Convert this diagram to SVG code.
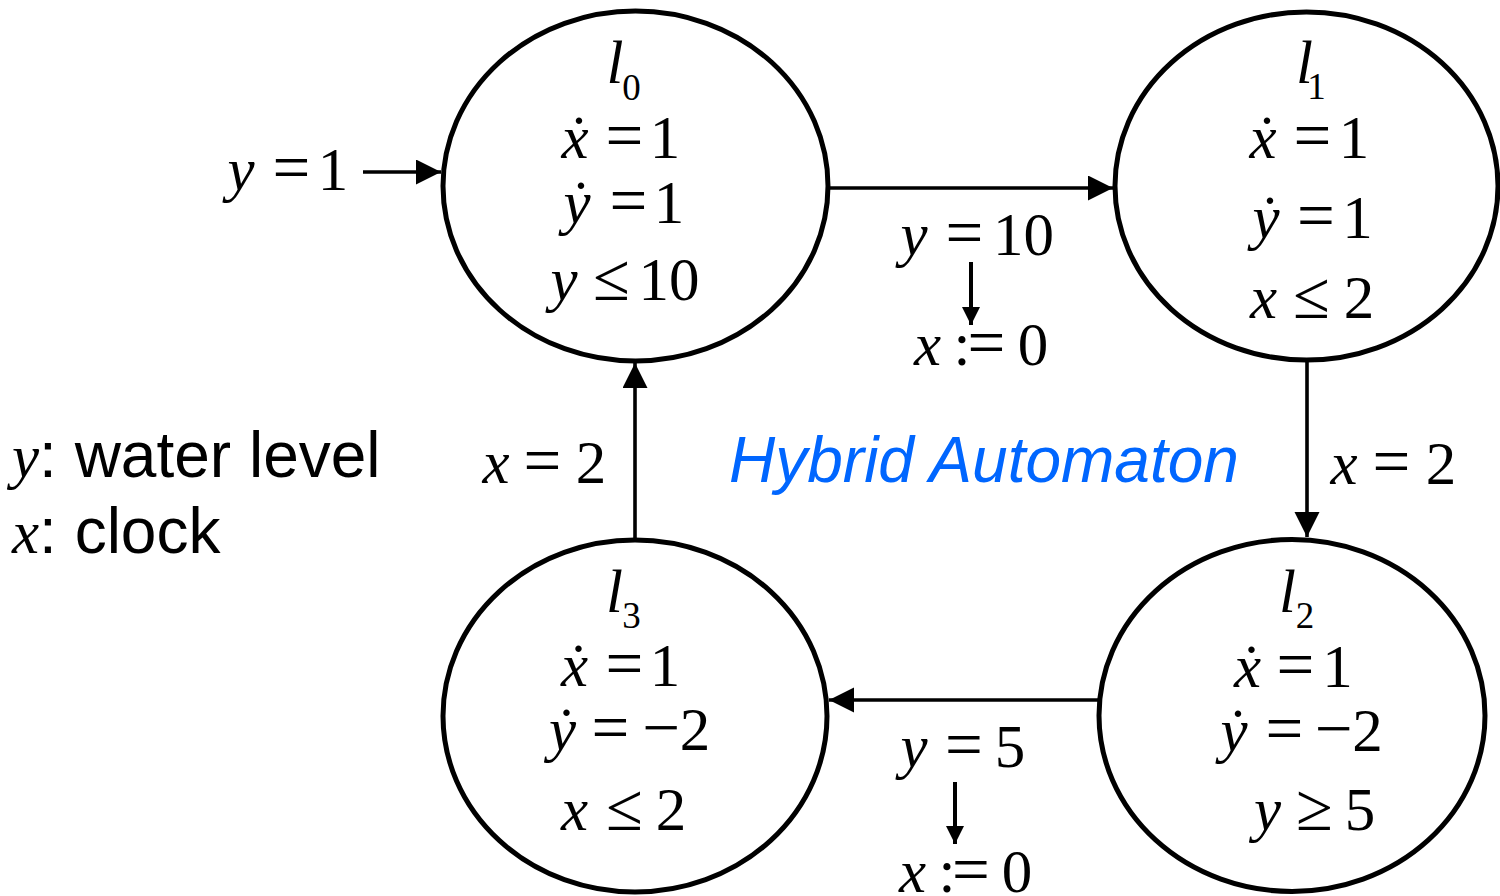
<svg xmlns="http://www.w3.org/2000/svg" width="1500" height="896" viewBox="0 0 1500 896">
<style>
.node{fill:none;stroke:#000;stroke-width:5}
.edge{fill:none;stroke:#000;stroke-width:3.6}
.sedge{fill:none;stroke:#000;stroke-width:4}
.m{font-family:"Liberation Serif","Times New Roman",serif;font-size:61px;fill:#000;text-anchor:middle}
.i{font-style:italic}
.o{font-size:67px}
.sub{font-size:37px}
.sans{font-family:"Liberation Sans",Arial,sans-serif;font-size:64px;fill:#000}
.title{font-family:"Liberation Sans",Arial,sans-serif;font-size:64px;font-style:italic;fill:#0066ff}
</style>
<defs>
<marker id="ah" markerUnits="userSpaceOnUse" markerWidth="26" markerHeight="26" refX="25" refY="12.5" orient="auto"><path d="M0,0 L25,12.5 L0,25 z" fill="#000"/></marker>
<marker id="ahs" markerUnits="userSpaceOnUse" markerWidth="20" markerHeight="20" refX="18" refY="9" orient="auto"><path d="M0,0 L18,9 L0,18 z" fill="#000"/></marker>
</defs>
<g id="connectors">
<line class="edge" x1="363" y1="172" x2="441" y2="172" marker-end="url(#ah)"/>
<line class="edge" x1="828" y1="188" x2="1113" y2="188" marker-end="url(#ah)"/>
<line class="edge" x1="1307" y1="360" x2="1307" y2="537" marker-end="url(#ah)"/>
<line class="edge" x1="1100" y1="700" x2="829" y2="700" marker-end="url(#ah)"/>
<line class="edge" x1="635" y1="540" x2="635" y2="363" marker-end="url(#ah)"/>
<line class="sedge" x1="971" y1="262" x2="971" y2="325" marker-end="url(#ahs)"/>
<line class="sedge" x1="955" y1="782" x2="955" y2="844" marker-end="url(#ahs)"/>
<text class="m" y="190"><tspan class="i" x="241">y</tspan><tspan class="o" x="291.5">=</tspan><tspan x="333">1</tspan></text>
<text class="m" y="255"><tspan class="i" x="914">y</tspan><tspan class="o" x="964.5">=</tspan><tspan x="1023.5">10</tspan></text>
<text class="m" y="365"><tspan class="i" x="927.5">x</tspan><tspan x="962">:</tspan><tspan class="o" x="986.5">=</tspan><tspan x="1033">0</tspan></text>
<text class="m" y="484"><tspan class="i" x="1344">x</tspan><tspan class="o" x="1391.5">=</tspan><tspan x="1441">2</tspan></text>
<text class="m" y="767"><tspan class="i" x="914">y</tspan><tspan class="o" x="964">=</tspan><tspan x="1010">5</tspan></text>
<text class="m" y="892"><tspan class="i" x="912.5">x</tspan><tspan x="947">:</tspan><tspan class="o" x="971">=</tspan><tspan x="1017">0</tspan></text>
<text class="m" y="483"><tspan class="i" x="496">x</tspan><tspan class="o" x="542.5">=</tspan><tspan x="591">2</tspan></text>
</g>
<g id="l0">
<ellipse class="node" cx="635.5" cy="186" rx="192.5" ry="175"/>
<text class="m i" x="615" y="83">l</text><text class="m sub" x="631.5" y="100">0</text>
<text class="m" y="158"><tspan class="i" x="575">x</tspan><tspan x="579">˙</tspan><tspan class="o" x="624.5">=</tspan><tspan x="665">1</tspan></text>
<text class="m" y="223"><tspan class="i" x="577">y</tspan><tspan x="581">˙</tspan><tspan class="o" x="628.5">=</tspan><tspan x="669">1</tspan></text>
<text class="m" y="300"><tspan class="i" x="564">y</tspan><tspan class="o" x="611.5">≤</tspan><tspan x="669">10</tspan></text>
</g>
<g id="l1">
<ellipse class="node" cx="1306.5" cy="186" rx="191.5" ry="174"/>
<text class="m i" x="1304.5" y="83">l</text><text class="m sub" x="1316.5" y="99">1</text>
<text class="m" y="158"><tspan class="i" x="1263">x</tspan><tspan x="1267">˙</tspan><tspan class="o" x="1312.5">=</tspan><tspan x="1354">1</tspan></text>
<text class="m" y="238"><tspan class="i" x="1266">y</tspan><tspan x="1270">˙</tspan><tspan class="o" x="1316">=</tspan><tspan x="1357.5">1</tspan></text>
<text class="m" y="318"><tspan class="i" x="1263.5">x</tspan><tspan class="o" x="1311.5">≤</tspan><tspan x="1359">2</tspan></text>
</g>
<g id="l2">
<ellipse class="node" cx="1292" cy="715.5" rx="193" ry="176"/>
<text class="m i" x="1287.5" y="612">l</text><text class="m sub" x="1305" y="628">2</text>
<text class="m" y="687"><tspan class="i" x="1247.5">x</tspan><tspan x="1251.5">˙</tspan><tspan class="o" x="1295.5">=</tspan><tspan x="1337.5">1</tspan></text>
<text class="m" y="751"><tspan class="i" x="1234">y</tspan><tspan x="1238">˙</tspan><tspan class="o" x="1284.5">=</tspan><tspan class="o" x="1334">−</tspan><tspan x="1367.5">2</tspan></text>
<text class="m" y="830"><tspan class="i" x="1267.5">y</tspan><tspan class="o" x="1314.5">≥</tspan><tspan x="1360">5</tspan></text>
</g>
<g id="l3">
<ellipse class="node" cx="635" cy="716" rx="192" ry="176"/>
<text class="m i" x="614.5" y="612">l</text><text class="m sub" x="631.5" y="628">3</text>
<text class="m" y="686"><tspan class="i" x="574.5">x</tspan><tspan x="578.5">˙</tspan><tspan class="o" x="624.5">=</tspan><tspan x="665">1</tspan></text>
<text class="m" y="750"><tspan class="i" x="562.5">y</tspan><tspan x="566.5">˙</tspan><tspan class="o" x="610.5">=</tspan><tspan class="o" x="661.5">−</tspan><tspan x="695">2</tspan></text>
<text class="m" y="830"><tspan class="i" x="574.5">x</tspan><tspan class="o" x="624.5">≤</tspan><tspan x="671">2</tspan></text>
</g>
<g id="legend">
<text x="12" y="477" class="sans"><tspan style="font-family:'Liberation Serif',serif;font-style:italic;font-size:61px">y</tspan>: water level</text>
<text x="12" y="553" class="sans"><tspan style="font-family:'Liberation Serif',serif;font-style:italic;font-size:61px">x</tspan>: clock</text>
</g>
<text id="title" class="title" x="729" y="482">Hybrid Automaton</text>
</svg>
